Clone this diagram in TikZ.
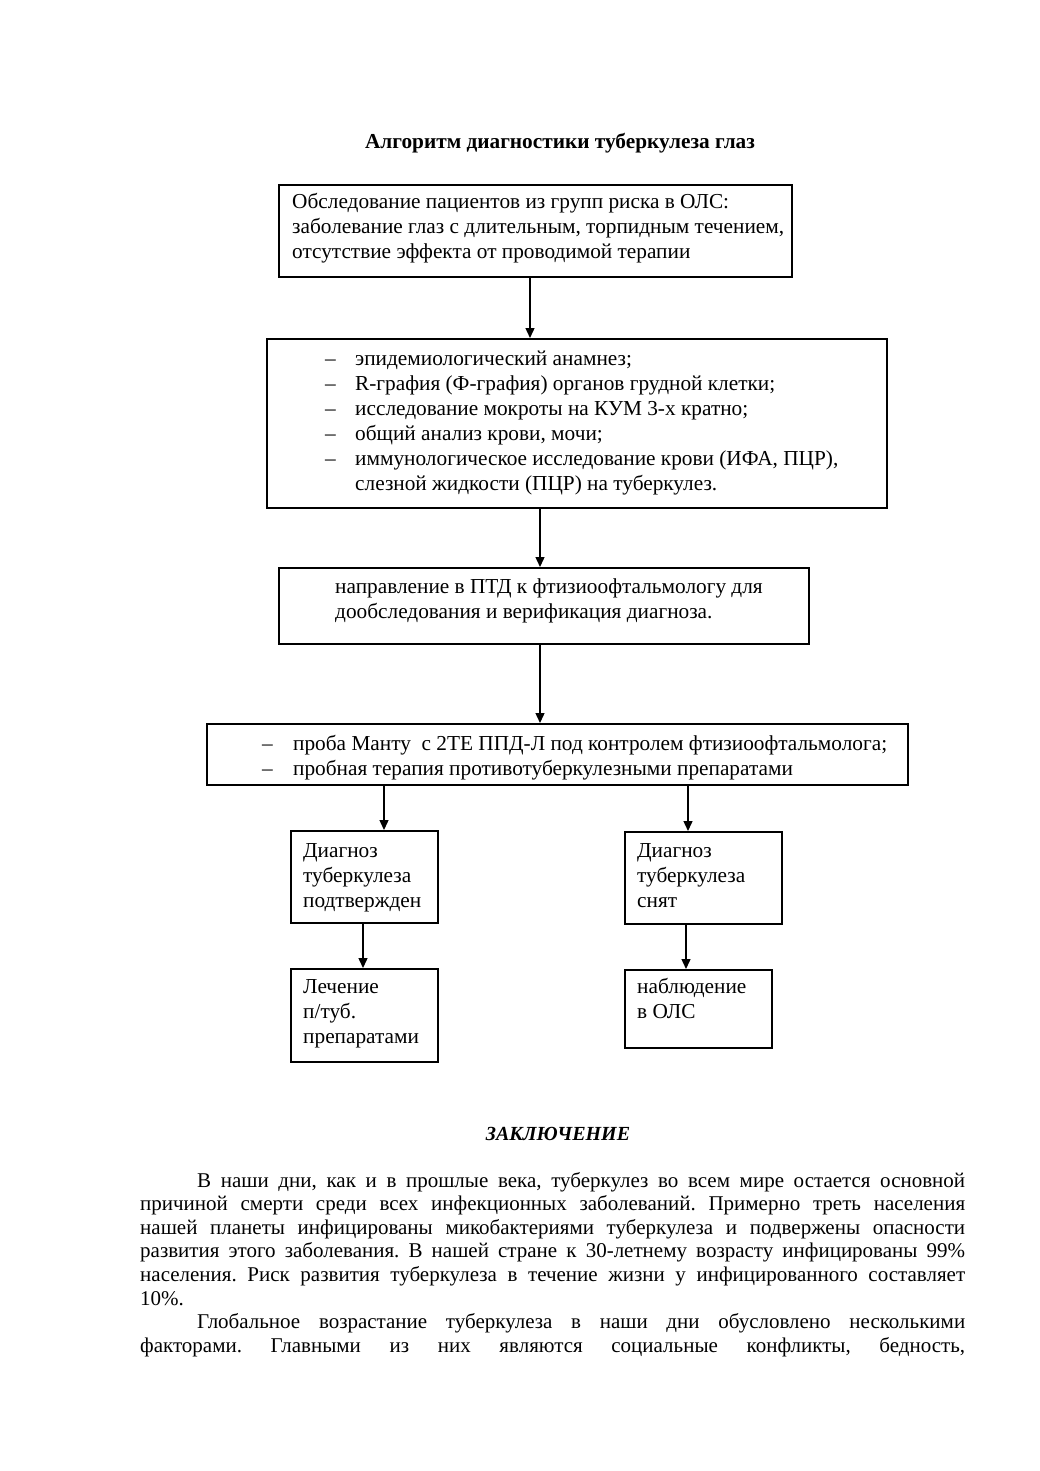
\documentclass[tikz,border=0pt]{standalone}
\usepackage{fontspec}
\setmainfont{Liberation Serif}
\usetikzlibrary{arrows.meta}
\frenchspacing
\newcommand\dsh[2]{\makebox[#1][l]{–}#2}
\begin{document}
\begin{tikzpicture}[x=1pt,y=-1pt,
  box/.style={draw, line width=1.6pt, anchor=north west, inner sep=0pt},
  txt/.style={anchor=base west, inner sep=0pt, font=\fontsize{21.3}{25}\selectfont},
  arr/.style={line width=1.4pt, -{Triangle[length=10pt,width=9pt]}}]
\useasboundingbox[fill=white] (0,0) rectangle (1039,1471);

\node[anchor=base, inner sep=0pt, font=\bfseries\fontsize{21.3}{24}\selectfont] (title) at (560,149) {Алгоритм диагностики туберкулеза глаз};

% boxes
\node[box, minimum width=513pt, minimum height=92pt] (b1) at (278,184) {};
\node[box, minimum width=620pt, minimum height=169pt] (b2) at (266,338) {};
\node[box, minimum width=530pt, minimum height=76pt] (b3) at (278,567) {};
\node[box, minimum width=701pt, minimum height=61pt] (b4) at (206,723) {};
\node[box, minimum width=147pt, minimum height=92pt] (b5) at (290,830) {};
\node[box, minimum width=157pt, minimum height=92pt] (b6) at (624,831) {};
\node[box, minimum width=147pt, minimum height=93pt] (b7) at (290,968) {};
\node[box, minimum width=147pt, minimum height=78pt] (b8) at (624,969) {};

% texts
\node[txt] (t1) at (292,209) {\parbox[t]{600pt}{Обследование пациентов из групп риска в ОЛС:\\
заболевание глаз с длительным, торпидным течением,\\
отсутствие эффекта от проводимой терапии}};
\node[txt] (t2) at (325,365) {\parbox[t]{600pt}{\dsh{30pt}{эпидемиологический анамнез;}\\
\dsh{30pt}{R-графия (Ф-графия) органов грудной клетки;}\\
\dsh{30pt}{исследование мокроты на КУМ 3-х кратно;}\\
\dsh{30pt}{общий анализ крови, мочи;}\\
\dsh{30pt}{иммунологическое исследование крови (ИФА, ПЦР),}\\
\hspace*{30pt}слезной жидкости (ПЦР) на туберкулез.}};
\node[txt] (t3) at (335,593) {\parbox[t]{600pt}{направление в ПТД к фтизиоофтальмологу для\\
дообследования и верификация диагноза.}};
\node[txt] (t4) at (262,750) {\parbox[t]{700pt}{\dsh{31pt}{проба Манту\ \ с 2ТЕ ППД-Л под контролем фтизиоофтальмолога;}\\
\dsh{31pt}{пробная терапия противотуберкулезными препаратами}}};
\node[txt] (t5) at (303,857) {\parbox[t]{140pt}{Диагноз\\туберкулеза\\подтвержден}};
\node[txt] (t6) at (637,857) {\parbox[t]{140pt}{Диагноз\\туберкулеза\\снят}};
\node[txt] (t7) at (303,993) {\parbox[t]{140pt}{Лечение\\п/туб.\\препаратами}};
\node[txt] (t8) at (637,993) {\parbox[t]{140pt}{наблюдение\\в ОЛС}};

% arrow columns
\coordinate (c1) at (530,0);
\coordinate (c2) at (540,0);
\coordinate (c3) at (384,0);
\coordinate (c4) at (688,0);
\coordinate (c5) at (363,0);
\coordinate (c6) at (686,0);
\draw[arr] (b1.south -| c1) -- (b2.north -| c1);
\draw[arr] (b2.south -| c2) -- (b3.north -| c2);
\draw[arr] (b3.south -| c2) -- (b4.north -| c2);
\draw[arr] (b4.south -| c3) -- (b5.north -| c3);
\draw[arr] (b4.south -| c4) -- (b6.north -| c4);
\draw[arr] (b5.south -| c5) -- (b7.north -| c5);
\draw[arr] (b6.south -| c6) -- (b8.north -| c6);

% conclusion
\node[anchor=base, inner sep=0pt, font=\bfseries\itshape\fontsize{20}{22}\selectfont] (concl) at (558,1140) {ЗАКЛЮЧЕНИЕ};
\node[anchor=base west, inner sep=0pt, font=\fontsize{21}{23.6}\selectfont] (para) at (140,1187) {\parbox[t]{825pt}{%
\hspace*{57pt}\makebox[768pt][s]{В наши дни, как и в прошлые века, туберкулез во всем мире остается основной}\\
\makebox[825pt][s]{причиной смерти среди всех инфекционных заболеваний. Примерно треть населения}\\
\makebox[825pt][s]{нашей планеты инфицированы микобактериями туберкулеза и подвержены опасности}\\
\makebox[825pt][s]{развития этого заболевания. В нашей стране к 30-летнему возрасту инфицированы 99\%}\\
\makebox[825pt][s]{населения. Риск развития туберкулеза в течение жизни у инфицированного составляет}\\
10\%.\\
\hspace*{57pt}\makebox[768pt][s]{Глобальное возрастание туберкулеза в наши дни обусловлено несколькими}\\
\makebox[825pt][s]{факторами. Главными из них являются социальные конфликты, бедность,}}};
\end{tikzpicture}
\end{document}
